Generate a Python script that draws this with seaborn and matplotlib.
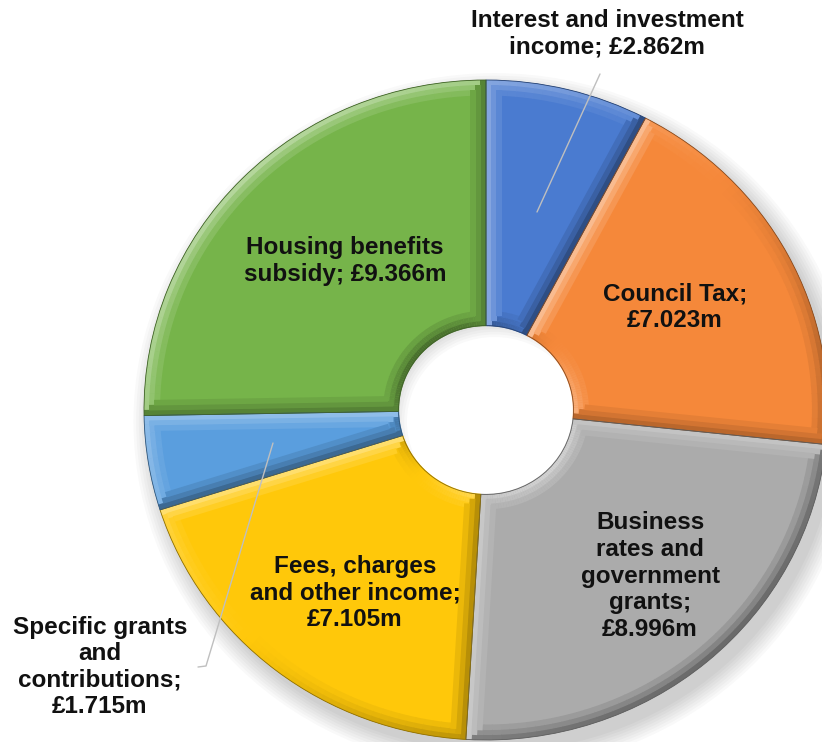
import numpy as np
import matplotlib
matplotlib.use("Agg")
import matplotlib.pyplot as plt
import seaborn as sns
from matplotlib.patches import Wedge, Polygon
from matplotlib.colors import to_rgb

# income sources, clockwise from 12 o'clock
categories = ["Interest and investment income", "Council Tax",
              "Business rates and government grants", "Fees, charges and other income",
              "Specific grants and contributions", "Housing benefits subsidy"]
values = [2.862, 7.023, 8.996, 7.105, 1.715, 9.366]
label_texts = ["Interest and investment\nincome; £2.862m",
               "Council Tax;\n£7.023m",
               "Business\nrates and\ngovernment\ngrants;\n£8.996m",
               "Fees, charges\nand other income;\n£7.105m",
               "Specific grants\nand\ncontributions;\n£1.715m",
               "Housing benefits\nsubsidy; £9.366m"]
colors = ["#4A7BD0", "#F5883A", "#ABABAB", "#FFC80A", "#5A9EDE", "#76B44A"]

# label centres in pixel space of the 822x742 image
label_px = [(607, 34), (675, 307), (650, 576), (355, 593), (100, 667), (345, 261)]

W, H = 822, 742
CX, CY, RX, RY = 486, 410, 342, 330
LIGHT = np.deg2rad(135)  # light from the top-left
BEV = 0.045
LAYERS = [(0.0, 1.0), (0.015, 0.6), (0.030, 0.28)]  # (inset, strength) for a soft bevel


def px(x, y):
    return (x - CX) / RX, (CY - y) / RY


def lit(c, normal, strength=1.0):
    # shade a colour by how much a bevel facing `normal` catches the light
    r = np.array(to_rgb(c))
    k = np.cos(normal - LIGHT) * strength
    if k >= 0:
        return tuple(r + (1 - r) * 0.45 * k)
    return tuple(r * (1 + 0.38 * k))


sns.set_theme(style="white")
plt.rcParams["font.family"] = ["Liberation Sans", "DejaVu Sans"]

fig = plt.figure(figsize=(W / 100, H / 100), dpi=100)
ax = fig.add_axes([0, 0, 1, 1])

ring = 1 - 86 / 336
r_in = 1 - ring
bw = BEV / len(LAYERS)

# soft drop shadow (ring only, hole stays white)
for i in range(8):
    ax.add_patch(Wedge((0.025, -0.035), 1.0 + 0.008 * i, 0, 360, width=ring,
                       facecolor="#000000", alpha=0.025, lw=0, zorder=0))

wedges, _ = ax.pie(values, colors=colors, startangle=90, counterclock=False,
                   radius=1.0, wedgeprops=dict(width=ring, edgecolor="none"))

for w, c in zip(wedges, colors):
    w.set_zorder(2)
    t1, t2 = w.theta1, w.theta2
    # outer and inner rims, split into small steps so the shading turns with the angle
    for a in np.arange(t1, t2, 1.5):
        b = min(a + 1.6, t2)
        ang = np.deg2rad((a + b) / 2)
        for inset, s in LAYERS:
            ax.add_patch(Wedge((0, 0), 1.0 - inset, a, b, width=bw + 0.002,
                               facecolor=lit(c, ang, s), edgecolor="none", zorder=3))
            ax.add_patch(Wedge((0, 0), r_in + inset + bw, a, b, width=bw + 0.002,
                               facecolor=lit(c, ang + np.pi, s), edgecolor="none", zorder=3))
    # radial sides
    for t, sgn in ((t1, 1), (t2, -1)):
        tr = np.deg2rad(t)
        d = np.array([np.cos(tr), np.sin(tr)])
        n_in = sgn * np.array([-np.sin(tr), np.cos(tr)])  # towards wedge interior
        normal = np.arctan2(-n_in[1], -n_in[0])
        for inset, s in LAYERS:
            o0, o1 = n_in * inset, n_in * (inset + bw + 0.002)
            pts = [d * (r_in + inset) + o0, d * (1.0 - inset) + o0,
                   d * (1.0 - inset) + o1, d * (r_in + inset) + o1]
            ax.add_patch(Polygon(pts, closed=True, facecolor=lit(c, normal, s),
                                 edgecolor="none", zorder=3.5))
    ax.add_patch(Wedge((0, 0), 1.0, t1, t2, width=ring, facecolor="none",
                       edgecolor=tuple(np.array(to_rgb(c)) * 0.55), lw=0.6, zorder=4))

# leader lines
ax.plot(*zip(px(600, 74), px(537, 212)), color="#BFBFBF", lw=1, zorder=4)
ax.plot(*zip(px(273, 443), px(206, 666), px(198, 667)), color="#BFBFBF", lw=1, zorder=4)

for txt, (x, y) in zip(label_texts, label_px):
    ax.text(*px(x, y), txt, ha="center", va="center", fontsize=17.5,
            fontweight="bold", color="#111111", linespacing=1.2, zorder=5)

# pie() forces equal aspect; restore the slightly wide ellipse of the original
ax.set_aspect("auto")
ax.set_xlim(px(0, 0)[0], px(W, 0)[0])
ax.set_ylim(px(0, H)[1], px(0, 0)[1])
ax.axis("off")

fig.savefig("out.png", dpi=100)
